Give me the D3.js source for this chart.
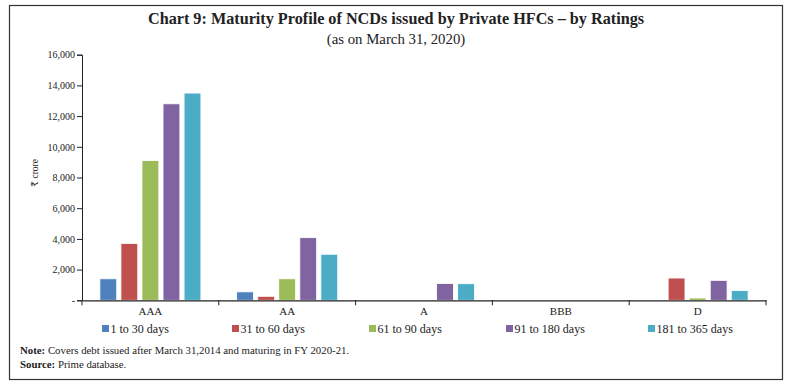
<!DOCTYPE html>
<html><head><meta charset="utf-8">
<script src="https://cdn.jsdelivr.net/npm/d3@7"></script>
<style>
body{margin:0;background:#fff;}
text{font-family:"Liberation Serif","DejaVu Serif",serif;fill:#222;}
</style></head>
<body><svg id="c" width="791" height="388"></svg>
<script>
const categories = ["AAA","AA","A","BBB","D"];
const seriesNames = ["1 to 30 days","31 to 60 days","61 to 90 days","91 to 180 days","181 to 365 days"];
const v1to30   = [1400, 550, 0, 0, 20];
const v31to60  = [3700, 260, 0, 0, 1450];
const v61to90  = [9100, 1400, 20, 0, 150];
const v91to180 = [12800, 4080, 1100, 0, 1300];
const v181to365= [13500, 3000, 1080, 0, 630];
const colors = ["#4F81BD","#C0504D","#9BBB59","#8064A2","#4BACC6"];
const yTicks = [0,2000,4000,6000,8000,10000,12000,14000,16000];

const series = [v1to30,v31to60,v61to90,v91to180,v181to365];
const svg = d3.select("#c");
svg.append("rect").attr("x",9.5).attr("y",5.5).attr("width",773).attr("height",374)
  .attr("fill","none").attr("stroke","#333").attr("stroke-width",1.2);

svg.append("text").attr("x",396).attr("y",24).attr("text-anchor","middle")
  .attr("font-size",16.2).attr("font-weight","bold").text("Chart 9: Maturity Profile of NCDs issued by Private HFCs – by Ratings");
svg.append("text").attr("x",396).attr("y",44).attr("text-anchor","middle")
  .attr("font-size",14.8).text("(as on March 31, 2020)");

const pLeft=82, pRight=766, pTop=54.7, pBottom=300.3;
const x = d3.scaleBand().domain(categories).range([pLeft,pRight]).paddingInner(0).paddingOuter(0);
const xi = d3.scaleBand().domain(d3.range(5)).range([0,x.bandwidth()]).paddingOuter(0.85).paddingInner(0.2);
const y = d3.scaleLinear().domain([0,16000]).range([pBottom,pTop]);

const g = svg.append("g");
categories.forEach((c,ci)=>{
  series.forEach((s,si)=>{
    const v=s[ci];
    if(v<=0) return;
    g.append("rect").attr("x",x(c)+xi(si)).attr("y",y(v)).attr("width",xi.bandwidth())
      .attr("height",Math.max(pBottom-y(v),0.8)).attr("fill",colors[si])
      .attr("stroke","#fff").attr("stroke-width",0.8);
  });
});

const yAxis = d3.axisLeft(y).tickValues(yTicks).tickSize(5).tickPadding(2)
  .tickFormat(d=> d===0 ? "-" : d3.format(",")(d));
const ya = svg.append("g").attr("transform",`translate(${pLeft},0)`).call(yAxis);
ya.selectAll("text").attr("font-size",10).attr("font-family","DejaVu Sans").attr("fill","#222");
ya.selectAll("line,path").attr("stroke","#222");

const xAxis = d3.axisBottom(x).tickSize(0).tickSizeOuter(0);
const xa = svg.append("g").attr("transform",`translate(0,${pBottom})`).call(xAxis);
xa.selectAll("text").attr("font-size",11).attr("dy","1.05em").attr("font-family","Liberation Serif").attr("fill","#222");
xa.select("path").attr("stroke","#222").attr("stroke-width",1.3);
const bounds = categories.map(c=>x(c)).concat([pRight]);
xa.selectAll(".bt").data(bounds).enter().append("line").attr("class","bt")
  .attr("x1",d=>d).attr("x2",d=>d).attr("y1",0).attr("y2",5).attr("stroke","#222");

svg.append("text").attr("transform","translate(38,173) rotate(-90)").attr("text-anchor","middle")
  .attr("font-family","DejaVu Sans").attr("font-size",9.5).text("₹ crore");

const legX=[102,232,369,506,648];
seriesNames.forEach((n,i)=>{
  svg.append("rect").attr("x",legX[i]).attr("y",325).attr("width",7).attr("height",7).attr("fill",colors[i]);
  svg.append("text").attr("x",legX[i]+8.5).attr("y",332.5).attr("font-size",12).text(n);
});

const note = svg.append("text").attr("x",20).attr("y",354).attr("font-size",10.8);
note.append("tspan").attr("font-weight","bold").text("Note: ");
note.append("tspan").text("Covers debt issued after March 31,2014 and maturing in FY 2020-21.");
const src = svg.append("text").attr("x",20).attr("y",367.5).attr("font-size",10.8);
src.append("tspan").attr("font-weight","bold").text("Source: ");
src.append("tspan").text("Prime database.");
</script></body></html>
